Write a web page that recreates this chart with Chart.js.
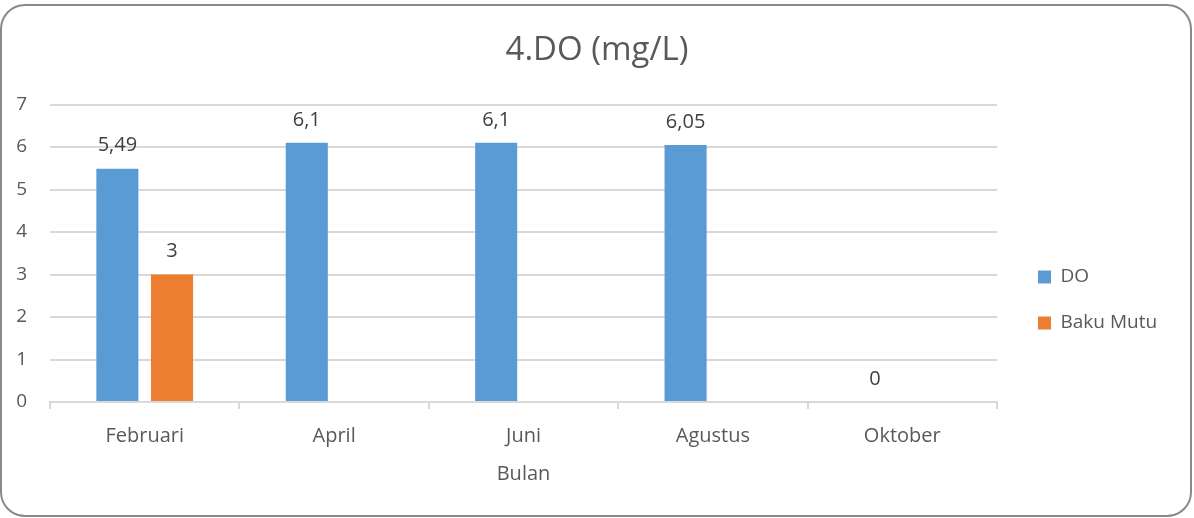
<!DOCTYPE html>
<html>
<head>
<meta charset="utf-8">
<script src="https://cdn.jsdelivr.net/npm/chart.js"></script>
<style>
  html, body { margin: 0; padding: 0; background: #fff; }
  #wrap { position: relative; width: 1194px; height: 518px; overflow: hidden; }
  #frame { position: absolute; left: 0; top: 4px; width: 1188px; height: 509px;
           border: 2px solid #8a8a8a; border-radius: 25px; pointer-events: none; }
  canvas { position: absolute; left: 0; top: 0; }
</style>
</head>
<body>
<div id="wrap">
  <canvas id="chart" width="1194" height="518"></canvas>
  <div id="frame"></div>
</div>

<script>
const months = ['Februari', 'April', 'Juni', 'Agustus', 'Oktober'];
const doValues = [5.49, 6.1, 6.1, 6.05, 0];
const bakuMutu = [3, null, null, null, null];
const yTicks = [0, 1, 2, 3, 4, 5, 6, 7];

const FONT = '"Open Sans", "Liberation Sans", sans-serif';
const TEXT = '#595959';
const GRID = '#d9d9d9';

// value labels above the bars, decimal comma like the original
const valueLabels = {
  id: 'valueLabels',
  afterDatasetsDraw(chart) {
    const ctx = chart.ctx;
    ctx.save();
    ctx.font = '20px ' + FONT;
    ctx.fillStyle = '#404040';
    ctx.textAlign = 'center';
    ctx.textBaseline = 'middle';
    chart.data.datasets.forEach((ds, i) => {
      chart.getDatasetMeta(i).data.forEach((bar, j) => {
        const v = ds.data[j];
        if (v === null || v === undefined) return;
        ctx.fillText(String(v).replace('.', ','), bar.x, bar.y - 23);
      });
    });
    ctx.restore();
  }
};

// legend sits a bit right of the plot and lower than centre
const legendPlace = {
  id: 'legendPlace',
  afterInit(chart) {
    const lg = chart.legend;
    const fit = lg.fit;
    lg.fit = function () { fit.call(this); this.width = 197; };
  },
  afterLayout(chart) {
    const lg = chart.legend;
    const dx = 1038 - (lg.left + lg.options.labels.padding);
    lg.left += dx; lg.right += dx;
    lg.top += 36; lg.bottom += 36;
  }
};

new Chart(document.getElementById('chart'), {
  type: 'bar',
  data: {
    labels: months,
    datasets: [
      { label: 'DO', data: doValues, backgroundColor: '#5b9bd5',
        categoryPercentage: 0.577, barPercentage: 0.77 },
      { label: 'Baku Mutu', data: bakuMutu, backgroundColor: '#ed7d31',
        categoryPercentage: 0.577, barPercentage: 0.77 }
    ]
  },
  options: {
    responsive: false,
    animation: false,
    devicePixelRatio: 1,
    layout: { padding: { top: 10, left: 0, right: 0, bottom: 0 } },
    plugins: {
      title: {
        display: true,
        text: '4.DO (mg/L)',
        color: TEXT,
        font: { family: FONT, size: 33, weight: 'normal' },
        padding: { top: 21, bottom: 34 }
      },
      legend: {
        position: 'right',
        align: 'center',
        labels: {
          color: TEXT,
          font: { family: FONT, size: 19 },
          boxWidth: 13,
          boxHeight: 13,
          padding: 27
        }
      },
      tooltip: { enabled: false }
    },
    scales: {
      x: {
        grid: { display: true, drawOnChartArea: false, drawTicks: true,
                tickLength: 7, color: GRID, lineWidth: 2 },
        border: { display: true, color: GRID, width: 2 },
        ticks: { color: TEXT, font: { family: FONT, size: 20 }, padding: 15 },
        title: { display: true, text: 'Bulan', color: TEXT,
                 font: { family: FONT, size: 20 }, padding: { top: 4, bottom: 32 } },
        afterFit(scale) { scale.height = 116; }
      },
      y: {
        min: 0,
        max: 7,
        afterBuildTicks(scale) { scale.ticks = yTicks.map(v => ({ value: v })); },
        grid: { color: GRID, lineWidth: 2, drawTicks: false },
        border: { display: false },
        ticks: { color: TEXT, font: { family: FONT, size: 19 }, padding: 23 },
        afterFit(scale) { scale.width = 50; }
      }
    }
  },
  plugins: [valueLabels, legendPlace]
});
</script>
</body>
</html>
